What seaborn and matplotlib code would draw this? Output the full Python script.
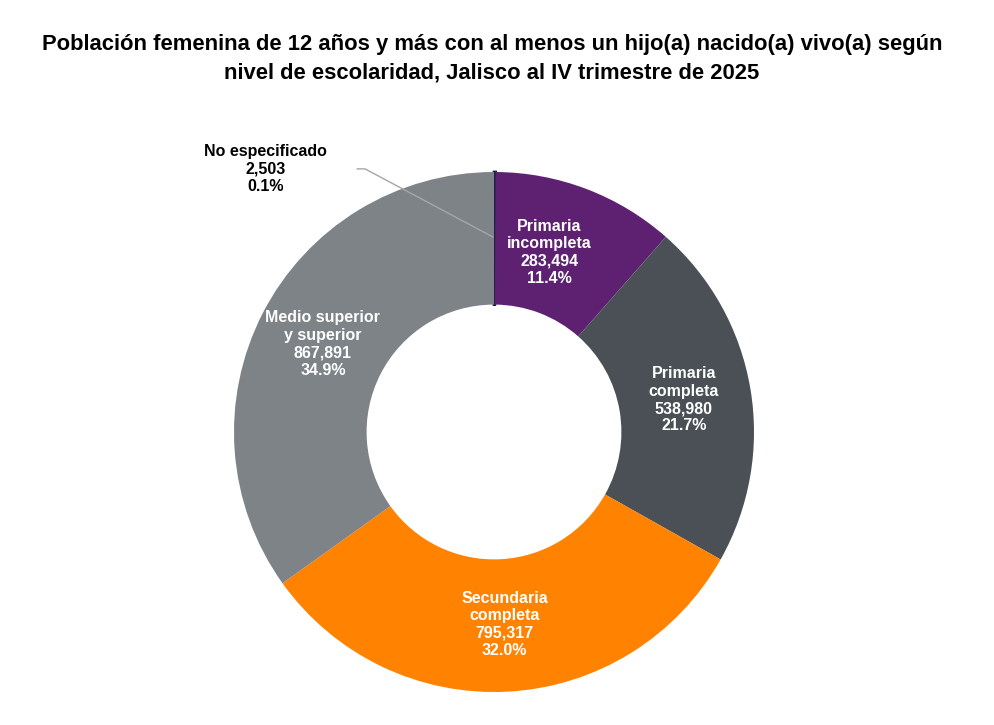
import matplotlib.pyplot as plt
import seaborn as sns
import numpy as np

# Población femenina con al menos un hijo nacido vivo, por escolaridad
categorias = ["No especificado", "Primaria\nincompleta", "Primaria\ncompleta",
              "Secundaria\ncompleta", "Medio superior\ny superior"]
poblacion = [2503, 283494, 538980, 795317, 867891]
porcentajes = ["0.1%", "11.4%", "21.7%", "32.0%", "34.9%"]
colores = ["#1f2148", "#5e2172", "#4a5055", "#ff8200", "#7e8388"]

sns.set_theme(style="white")
plt.rcParams["font.family"] = ["Liberation Sans", "DejaVu Sans"]

fig = plt.figure(figsize=(9.94, 7.25), dpi=100)
ax = fig.add_axes([234 / 994, 33 / 725, 520 / 994, 520 / 725])

wedges, _ = ax.pie(poblacion, colors=colores, startangle=90, counterclock=False,
                   radius=1.0, wedgeprops=dict(width=0.51, linewidth=0))
# the tiny slice gets an outline so it stays visible
wedges[0].set_edgecolor(colores[0])
wedges[0].set_linewidth(2.0)
ax.set_xlim(-1, 1)
ax.set_ylim(-1, 1)
ax.set_aspect("equal")

total = sum(poblacion)
inicio = 90.0
for i, (cat, val, pct) in enumerate(zip(categorias, poblacion, porcentajes)):
    ang = inicio - 360 * val / total / 2
    inicio -= 360 * val / total
    texto = f"{cat}\n{val:,}\n{pct}"
    if i == 0:
        # label outside with a leader line
        ax.text(-0.88, 1.012, texto, ha="center", va="center", fontsize=11.5,
                fontweight="bold", color="black", linespacing=1.2)
        ax.plot([-0.527, -0.496, -0.004], [1.012, 1.012, 0.75], color="#a6a6a6",
                lw=1, clip_on=False)
        continue
    r = 0.74
    x = r * np.cos(np.radians(ang))
    y = r * np.sin(np.radians(ang))
    if i == 1:
        x -= 0.05
    ax.text(x, y, texto, ha="center", va="center", fontsize=11.5,
            fontweight="bold", color="white", linespacing=1.2)

fig.text(0.495, 0.919, "Población femenina de 12 años y más con al menos un hijo(a) nacido(a) vivo(a) según\n"
         "nivel de escolaridad, Jalisco al IV trimestre de 2025",
         ha="center", va="center", fontsize=15.8, fontweight="bold", linespacing=1.47,
         color="black")

fig.savefig("out.png", dpi=100)
